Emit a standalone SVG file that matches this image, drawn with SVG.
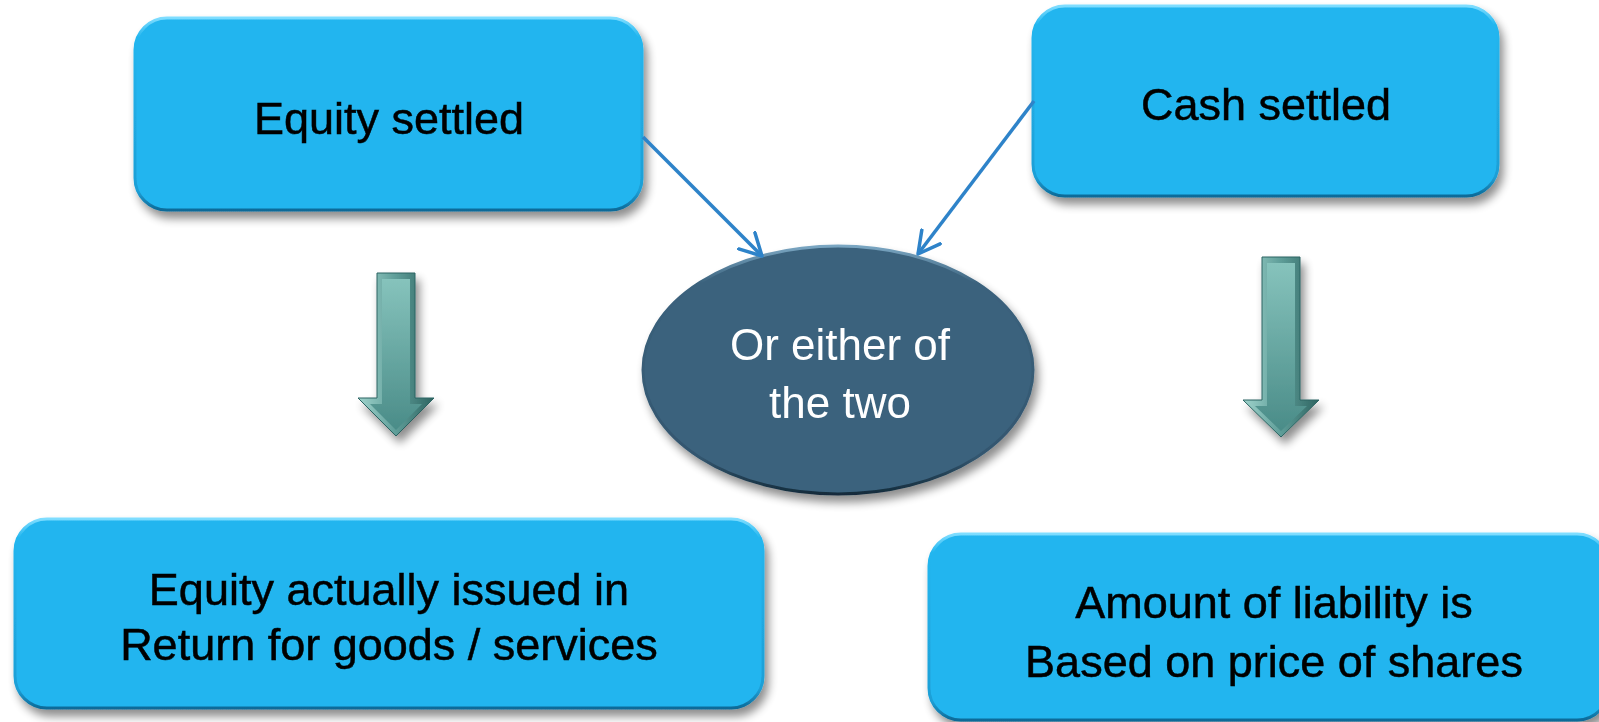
<svg xmlns="http://www.w3.org/2000/svg" width="1599" height="722" viewBox="0 0 1599 722">
  <defs>
    <filter id="shadow" x="-10%" y="-10%" width="125%" height="130%">
      <feGaussianBlur in="SourceAlpha" stdDeviation="5"/>
      <feOffset dx="4" dy="7" result="b"/>
      <feComponentTransfer><feFuncA type="linear" slope="0.45"/></feComponentTransfer>
      <feMerge><feMergeNode/><feMergeNode in="SourceGraphic"/></feMerge>
    </filter>
    <linearGradient id="boxEdge" x1="0" y1="0" x2="0" y2="1">
      <stop offset="0" stop-color="#7FDDFF"/>
      <stop offset="0.1" stop-color="#22B6EF"/>
      <stop offset="0.9" stop-color="#1E9FD6"/>
      <stop offset="1" stop-color="#0D6A98"/>
    </linearGradient>
    <linearGradient id="ellEdge" x1="0" y1="0" x2="0" y2="1">
      <stop offset="0" stop-color="#7AA6C2"/>
      <stop offset="0.15" stop-color="#3B627D"/>
      <stop offset="0.85" stop-color="#33566F"/>
      <stop offset="1" stop-color="#142C3C"/>
    </linearGradient>
    <linearGradient id="arrowFill" x1="0" y1="0" x2="0" y2="1">
      <stop offset="0" stop-color="#86C3BC"/>
      <stop offset="1" stop-color="#4A8C88"/>
    </linearGradient>
    <linearGradient id="arrowEdge" x1="0" y1="0" x2="1" y2="0">
      <stop offset="0" stop-color="#9FD3CC"/>
      <stop offset="0.5" stop-color="#5E9D98"/>
      <stop offset="1" stop-color="#2E6461"/>
    </linearGradient>
    <marker id="open" markerUnits="userSpaceOnUse" viewBox="0 0 26 26" refX="23" refY="13" markerWidth="26" markerHeight="26" orient="auto">
      <path d="M1.5,1.5 L23,13 L1.5,24.5" fill="none" stroke="#2E83C9" stroke-width="3.5" stroke-linecap="round" stroke-linejoin="round"/>
    </marker>
    <style>
      .box { fill: #21B5EF; stroke: url(#boxEdge); stroke-width: 3; }
      .ell { fill: #3B627D; stroke: url(#ellEdge); stroke-width: 3; }
      .blk { fill: url(#arrowEdge); stroke: #2C6462; stroke-width: 1; }
      .blkin { fill: url(#arrowFill); }
      .t { font-family: "Liberation Sans", Arial, sans-serif; font-size: 45px; fill: #000; stroke: #000; stroke-width: 0.5; text-anchor: middle; }
      .tw { font-family: "Liberation Sans", Arial, sans-serif; font-size: 44px; fill: #FFFFFF; text-anchor: middle; }
      .con { stroke: #2E83C9; stroke-width: 3.5; fill: none; marker-end: url(#open); }
    </style>
  </defs>
  <rect width="1599" height="722" fill="#FFFFFF"/>

  <g id="equity-settled" filter="url(#shadow)">
    <rect class="box" x="135" y="18" width="507" height="192" rx="32"/>
    <text class="t" x="389" y="134">Equity settled</text>
  </g>

  <g id="cash-settled" filter="url(#shadow)">
    <rect class="box" x="1033" y="6" width="465" height="190" rx="32"/>
    <text class="t" x="1266" y="120">Cash settled</text>
  </g>

  <g id="either" filter="url(#shadow)">
    <ellipse class="ell" cx="838" cy="370" rx="195" ry="124"/>
    <text class="tw" x="840" y="360">Or either of</text>
    <text class="tw" x="840" y="418">the two</text>
  </g>

  <g id="arrow-left" filter="url(#shadow)">
    <polygon class="blk" points="377,273 415,273 415,398 434,398 396,436 358,398 377,398"/>
    <polygon class="blkin" points="382,279 410,279 410,404 422,404 396,430 370,404 382,404"/>
  </g>

  <g id="arrow-right" filter="url(#shadow)">
    <polygon class="blk" points="1262,257 1300,257 1300,400 1319,400 1281,437 1243,400 1262,400"/>
    <polygon class="blkin" points="1267,263 1295,263 1295,406 1307,406 1281,431 1255,406 1267,406"/>
  </g>

  <g id="equity-issued" filter="url(#shadow)">
    <rect class="box" x="15" y="519" width="748" height="189" rx="32"/>
    <text class="t" x="389" y="605">Equity actually issued in</text>
    <text class="t" x="389" y="660">Return for goods / services</text>
  </g>

  <g id="liability" filter="url(#shadow)">
    <rect class="box" x="929" y="534" width="680" height="186" rx="32"/>
    <text class="t" x="1274" y="618">Amount of liability is</text>
    <text class="t" x="1274" y="677">Based on price of shares</text>
  </g>

  <g id="connectors">
    <line class="con" x1="643" y1="137" x2="762" y2="256"/>
    <line class="con" x1="1034" y1="101" x2="918" y2="254"/>
  </g>
</svg>
